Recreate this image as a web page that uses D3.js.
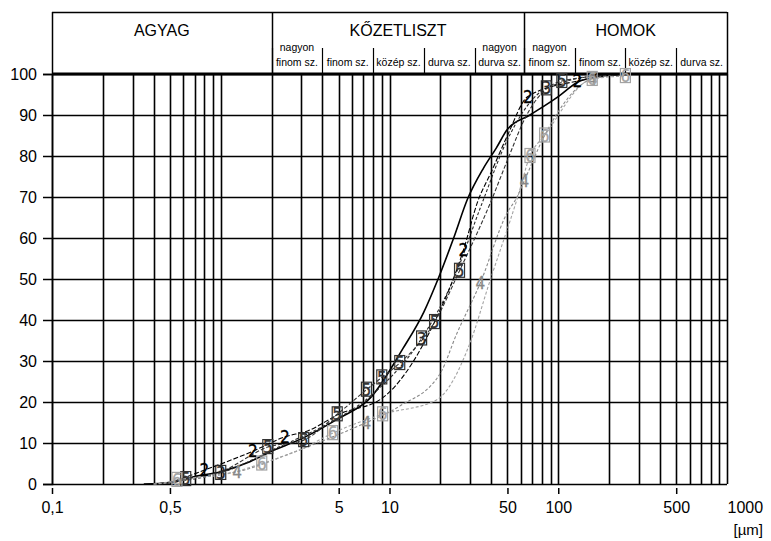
<!DOCTYPE html>
<html>
<head>
<meta charset="utf-8">
<script src="https://cdn.jsdelivr.net/npm/d3@7"></script>
<style>
  html, body { margin: 0; padding: 0; background: #fff; }
  svg { display: block; font-family: "Liberation Sans", Arial, sans-serif; }
</style>
</head>
<body>
<svg id="chart" width="771" height="541"></svg>
<script>
// ---------------- DATA ----------------
const xTickValues = [0.1, 0.5, 5, 10, 50, 100, 500, 1000];
const xTickLabels = ["0,1", "0,5", "5", "10", "50", "100", "500", "1000"];
const yTickValues = [0, 10, 20, 30, 40, 50, 60, 70, 80, 90, 100];
const unitLabel = "[µm]";

const mainClasses = ["AGYAG", "KŐZETLISZT", "HOMOK"];
const mainBounds = [0.1, 2, 63, 1000];
const subBounds = [2, 4, 8, 16, 32, 63, 125, 250, 500, 1000];
const subTop = ["nagyon", "", "", "", "nagyon", "nagyon", "", "", ""];
const subBottom = ["finom sz.", "finom sz.", "közép sz.", "durva sz.", "durva sz.", "finom sz.", "finom sz.", "közép sz.", "durva sz."];

// series: grain size (µm), cumulative percent, marker flags
const sizes1 = [0.35, 0.5, 0.7, 1, 1.5, 2, 3, 5, 7.7, 12, 16, 19.4, 24, 29, 36, 43, 50, 68, 100, 130, 180, 250];
const values1 = [0, 0.3, 1.8, 3, 5.5, 8, 11, 16, 21, 33, 42, 50, 60, 69.5, 77, 82, 86.5, 90, 94.5, 98, 99.5, 100];
const marks1 = [0, 0, 0, 0, 0, 0, 0, 0, 0, 0, 0, 0, 0, 0, 0, 0, 0, 0, 0, 0, 0, 0];

const sizes2 = [0.4, 0.5, 0.8, 1.55, 2.4, 3.3, 5, 9.1, 17.5, 27.4, 33.4, 40, 50, 66, 130, 250];
const values2 = [0, 0.5, 3.4, 8, 11.5, 13, 17, 21, 37.5, 57, 69, 76, 85, 94.5, 98.3, 100];
const marks2 = [0, 0, 1, 1, 1, 0, 0, 0, 0, 1, 0, 0, 0, 1, 1, 0];

const sizes3 = [0.4, 0.5, 1.0, 2.2, 4, 8, 15.5, 24, 35, 50, 85, 200];
const values3 = [0, 0.4, 2.7, 9, 14, 22, 35.5, 50, 68, 84, 96.5, 100];
const marks3 = [0, 0, 1, 0, 0, 0, 1, 0, 0, 0, 1, 0];

const sizes4 = [0.4, 0.5, 0.8, 1.25, 2.6, 4.6, 7.3, 11.5, 20, 25, 34.5, 49.6, 57, 63, 83, 159, 250];
const values4 = [0, 0.3, 2, 3, 7.5, 11.5, 15, 19, 27, 36.6, 49, 66, 70, 74, 85, 98.8, 100];
const marks4 = [0, 0, 0, 1, 0, 0, 1, 0, 0, 0, 1, 0, 0, 1, 0, 1, 0];

const sizes5 = [0.4, 0.5, 0.62, 1.0, 1.9, 3.1, 4.9, 7.3, 9, 11.5, 18.5, 26, 40, 50, 65, 105, 250];
const values5 = [0, 0.3, 1.2, 3, 9, 10.7, 17, 23, 26, 29.5, 39.5, 52, 69, 79, 90, 98.3, 100];
const marks5 = [0, 0, 1, 0, 1, 1, 1, 1, 1, 1, 1, 1, 0, 0, 0, 1, 0];

const sizes6 = [0.4, 0.45, 0.55, 1.1, 1.75, 3, 4.6, 9.1, 19, 30, 39, 57, 68, 83, 159, 250];
const values6 = [0, 0.2, 1, 2.5, 5, 8.5, 12.4, 17, 20.5, 34.4, 49, 69.5, 80, 85, 98.8, 99.5];
const marks6 = [0, 0, 1, 0, 1, 0, 1, 1, 0, 0, 0, 0, 1, 1, 1, 1];

// ---------------- SETUP ----------------
const seriesTable = [
  { label: "1", s: sizes1, v: values1, m: marks1, color: "#000", dash: null, width: 1.6, box: false },
  { label: "3", s: sizes3, v: values3, m: marks3, color: "#2a2a2a", dash: "3,2", width: 1.1, box: true },
  { label: "2", s: sizes2, v: values2, m: marks2, color: "#000", dash: "5,2", width: 1.1, box: false },
  { label: "5", s: sizes5, v: values5, m: marks5, color: "#333", dash: "4,2", width: 1.1, box: true },
  { label: "4", s: sizes4, v: values4, m: marks4, color: "#888", dash: "3,2", width: 1.1, box: false },
  { label: "6", s: sizes6, v: values6, m: marks6, color: "#a3a3a3", dash: "3,2", width: 1.1, box: true }
];

const svg = d3.select("#chart");
const x = d3.scaleLog().domain([0.1, 1000]).range([52, 727]);
const y = d3.scaleLinear().domain([0, 100]).range([484, 74]);
const headerTop = 12;
const subTopY = 48;

// ---------------- GRID ----------------
const grid = svg.append("g");
grid.selectAll("line.v").data(x.ticks()).join("line")
  .attr("x1", d => Math.round(x(d)) + 0.5).attr("x2", d => Math.round(x(d)) + 0.5)
  .attr("y1", y(100)).attr("y2", y(0))
  .attr("stroke", "#000").attr("stroke-width", 1.6);
grid.selectAll("line.h").data(yTickValues).join("line")
  .attr("x1", x(0.1)).attr("x2", x(1000))
  .attr("y1", d => Math.round(y(d)) + 0.5).attr("y2", d => Math.round(y(d)) + 0.5)
  .attr("stroke", "#000").attr("stroke-width", 1.6);

// ---------------- HEADER ----------------
const header = svg.append("g");
header.append("line").attr("x1", x(0.1)).attr("x2", x(1000))
  .attr("y1", headerTop + 0.5).attr("y2", headerTop + 0.5).attr("stroke", "#000").attr("stroke-width", 1.5);
header.selectAll("line.mb").data(mainBounds).join("line")
  .attr("x1", d => Math.round(x(d)) + 0.5).attr("x2", d => Math.round(x(d)) + 0.5)
  .attr("y1", headerTop).attr("y2", y(100))
  .attr("stroke", "#000").attr("stroke-width", 1.5);
header.selectAll("line.sb").data(subBounds.slice(0, -1)).join("line")
  .attr("x1", d => Math.round(x(d)) + 0.5).attr("x2", d => Math.round(x(d)) + 0.5)
  .attr("y1", subTopY).attr("y2", y(100))
  .attr("stroke", "#000").attr("stroke-width", 1.2);
header.selectAll("text.main").data(mainClasses).join("text")
  .attr("x", (d, i) => (x(mainBounds[i]) + x(mainBounds[i + 1])) / 2)
  .attr("y", 36).attr("text-anchor", "middle")
  .attr("font-size", 16).attr("fill", "#000").text(d => d);
header.selectAll("text.st").data(subTop).join("text")
  .attr("x", (d, i) => (x(subBounds[i]) + x(subBounds[i + 1])) / 2)
  .attr("y", 51).attr("text-anchor", "middle")
  .attr("font-size", 10.5).attr("fill", "#000").text(d => d);
header.selectAll("text.sbt").data(subBottom).join("text")
  .attr("x", (d, i) => (x(subBounds[i]) + x(subBounds[i + 1])) / 2)
  .attr("y", 65.5).attr("text-anchor", "middle")
  .attr("font-size", 10.5).attr("fill", "#000").text(d => d);

// ---------------- AXES ----------------
const yAxis = svg.append("g").attr("transform", `translate(${x(0.1)},0)`)
  .call(d3.axisLeft(y).tickValues(yTickValues).tickSize(9).tickPadding(6).tickFormat(d3.format("d")));
yAxis.select(".domain").attr("stroke-width", 1.5);
yAxis.selectAll(".tick line").attr("stroke-width", 1.5);
yAxis.selectAll("text").attr("font-size", 16).attr("fill", "#000").attr("font-family", "Liberation Sans, Arial, sans-serif");

const xAxis = svg.append("g").attr("transform", `translate(0,${y(0) + 4})`)
  .call(d3.axisBottom(x).tickValues(xTickValues).tickSize(6).tickPadding(8)
    .tickFormat((d, i) => xTickLabels[i]));
xAxis.select(".domain").remove();
xAxis.selectAll(".tick line").attr("stroke-width", 1.5)
  .attr("opacity", d => d === 1000 ? 0 : 1);
xAxis.selectAll("text").attr("font-size", 16).attr("fill", "#000")
  .attr("font-family", "Liberation Sans, Arial, sans-serif")
  .attr("text-anchor", d => d === 1000 ? "start" : "middle");

svg.append("text").attr("x", 763).attr("y", 535).attr("text-anchor", "end")
  .attr("font-size", 15).attr("fill", "#000").text(unitLabel);

// ---------------- CURVES ----------------
const line = d3.line().x(d => x(d.s)).y(d => y(d.v)).curve(d3.curveMonotoneX);
const plotG = svg.append("g");
seriesTable.forEach(sr => {
  const pts = sr.s.map((s, i) => ({ s, v: sr.v[i], m: sr.m[i] }));
  plotG.append("path").datum(pts).attr("d", line)
    .attr("fill", "none").attr("stroke", sr.color).attr("stroke-width", sr.width)
    .attr("stroke-dasharray", sr.dash);
});

// thick 100% line
svg.append("line").attr("x1", x(0.1)).attr("x2", x(1000))
  .attr("y1", y(100)).attr("y2", y(100)).attr("stroke", "#000").attr("stroke-width", 3.2);

// markers
const markG = svg.append("g");
seriesTable.forEach(sr => {
  const pts = sr.s.map((s, i) => ({ s, v: sr.v[i], m: sr.m[i] })).filter(d => d.m);
  const g = markG.selectAll(null).data(pts).join("g")
    .attr("transform", d => `translate(${x(d.s)},${y(d.v)})`);
  if (sr.box) {
    g.append("rect").attr("x", -5).attr("y", -7.5).attr("width", 10).attr("height", 14)
      .attr("fill", "none").attr("stroke", sr.color).attr("stroke-width", 1.2);
  }
  g.append("text").attr("text-anchor", "middle").attr("dy", "0.36em")
    .attr("font-size", 17).attr("font-family", "DejaVu Sans Condensed, DejaVu Sans, sans-serif")
    .attr("fill", sr.color).attr("stroke", sr.color).attr("stroke-width", 0.3)
    .text(sr.label);
});
</script>
</body>
</html>
